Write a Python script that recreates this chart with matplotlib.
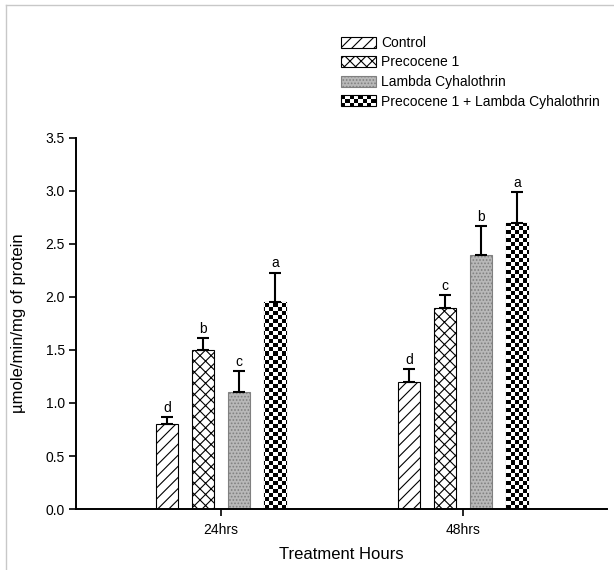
import numpy as np
import matplotlib.pyplot as plt
from matplotlib.lines import Line2D
from matplotlib.patches import Rectangle
from matplotlib.legend_handler import HandlerBase

plt.rcParams['font.family'] = ['Liberation Sans', 'DejaVu Sans']
plt.rcParams['hatch.linewidth'] = 0.8

# data
groups = ["24hrs", "48hrs"]
series = ["Control", "Precocene 1", "Lambda Cyhalothrin",
          "Precocene 1 + Lambda Cyhalothrin"]
control = [0.80, 1.20]
precocene = [1.50, 1.90]
lambda_cy = [1.10, 2.40]
combined = [1.95, 2.70]
control_err = [0.07, 0.12]
precocene_err = [0.11, 0.12]
lambda_err = [0.20, 0.265]
combined_err = [0.28, 0.29]
letters = [["d", "d"], ["b", "c"], ["c", "b"], ["a", "a"]]

values = [control, precocene, lambda_cy, combined]
errors = [control_err, precocene_err, lambda_err, combined_err]


class CheckerHandler(HandlerBase):
    # legend key drawn as a small checkerboard
    def create_artists(self, legend, orig_handle, xdescent, ydescent,
                       width, height, fontsize, trans):
        arts = []
        nx, ny = 8, 3
        w, h = width / nx, height / ny
        for i in range(nx):
            for j in range(ny):
                c = "black" if (i + j) % 2 == 0 else "white"
                arts.append(Rectangle((-xdescent + i * w, -ydescent + j * h),
                                      w, h, facecolor=c, edgecolor="none",
                                      transform=trans))
        arts.append(Rectangle((-xdescent, -ydescent), width, height,
                              facecolor="none", edgecolor="black", lw=0.8,
                              transform=trans))
        return arts


fig = plt.figure(figsize=(6.14, 5.7), dpi=100)
ax = fig.add_axes([0.1238, 0.107, 0.8648, 0.651])

x = np.arange(1, len(groups) + 1)
width = 0.091
step = 0.149
offsets = (np.arange(4) - 1.5) * step

styles = [
    dict(facecolor="white", hatch="///"),
    dict(facecolor="white", hatch="xxx"),
    dict(facecolor="#b8b8b8", hatch="....."),
    dict(facecolor="white", hatch=None),
]
edge = ["black", "black", "#808080", "black"]

all_bars = []
for i in range(4):
    bars = ax.bar(x + offsets[i], values[i], width, edgecolor=edge[i],
                  linewidth=0.8, label=series[i], zorder=2, **styles[i])
    all_bars.append(bars)
    ax.errorbar(x + offsets[i], values[i], yerr=[np.zeros(2), errors[i]],
                fmt="none", ecolor="black", elinewidth=1.5, capsize=4,
                capthick=1.5, zorder=3)
    for j in range(2):
        ax.text(x[j] + offsets[i], values[i][j] + errors[i][j] + 0.02,
                letters[i][j], ha="center", va="bottom", fontsize=10)

ax.set_xlim(0.401, 2.595)
ax.set_ylim(0, 3.5)

# checkerboard fill for the combined series
nx, ny = 132, 92
checker = (np.indices((ny, nx)).sum(axis=0) % 2).astype(float)
for b in all_bars[3]:
    im = ax.imshow(checker, cmap="gray", extent=(0.401, 2.595, 0, 3.5),
                   aspect="auto", interpolation="nearest", zorder=2.5)
    im.set_clip_path(b)
ax.set_xlim(0.401, 2.595)
ax.set_ylim(0, 3.5)

ax.set_xticks(x)
ax.set_xticklabels(groups)
ax.set_yticks(np.arange(0, 3.51, 0.5))
ax.set_yticklabels([f"{v:.1f}" for v in np.arange(0, 3.51, 0.5)])
ax.tick_params(axis="both", labelsize=10, width=1.2, length=5)
ax.tick_params(axis="y", pad=3)
ax.tick_params(axis="x", pad=5)
for s in ["top", "right"]:
    ax.spines[s].set_visible(False)
for s in ["left", "bottom"]:
    ax.spines[s].set_linewidth(1.4)

ax.set_xlabel("Treatment Hours", fontsize=12, labelpad=7)
ax.set_ylabel("µmole/min/mg of protein", fontsize=12, labelpad=14)

# legend
handles = [all_bars[i][0] for i in range(4)]
leg = fig.legend(handles, series, loc="upper left",
                 bbox_to_anchor=(0.535, 0.959), frameon=False, fontsize=10,
                 handlelength=2.5, handleheight=0.85, labelspacing=0.4,
                 handletextpad=0.4,
                 handler_map={handles[3]: CheckerHandler()})

# light grey frame lines
fig.add_artist(Line2D([6 / 614, 1], [1 - 5 / 570, 1 - 5 / 570],
                      color="#c8c8c8", lw=1, transform=fig.transFigure))
fig.add_artist(Line2D([6 / 614, 6 / 614], [0, 1 - 5 / 570],
                      color="#c8c8c8", lw=1, transform=fig.transFigure))

fig.savefig("out.png", dpi=100)
